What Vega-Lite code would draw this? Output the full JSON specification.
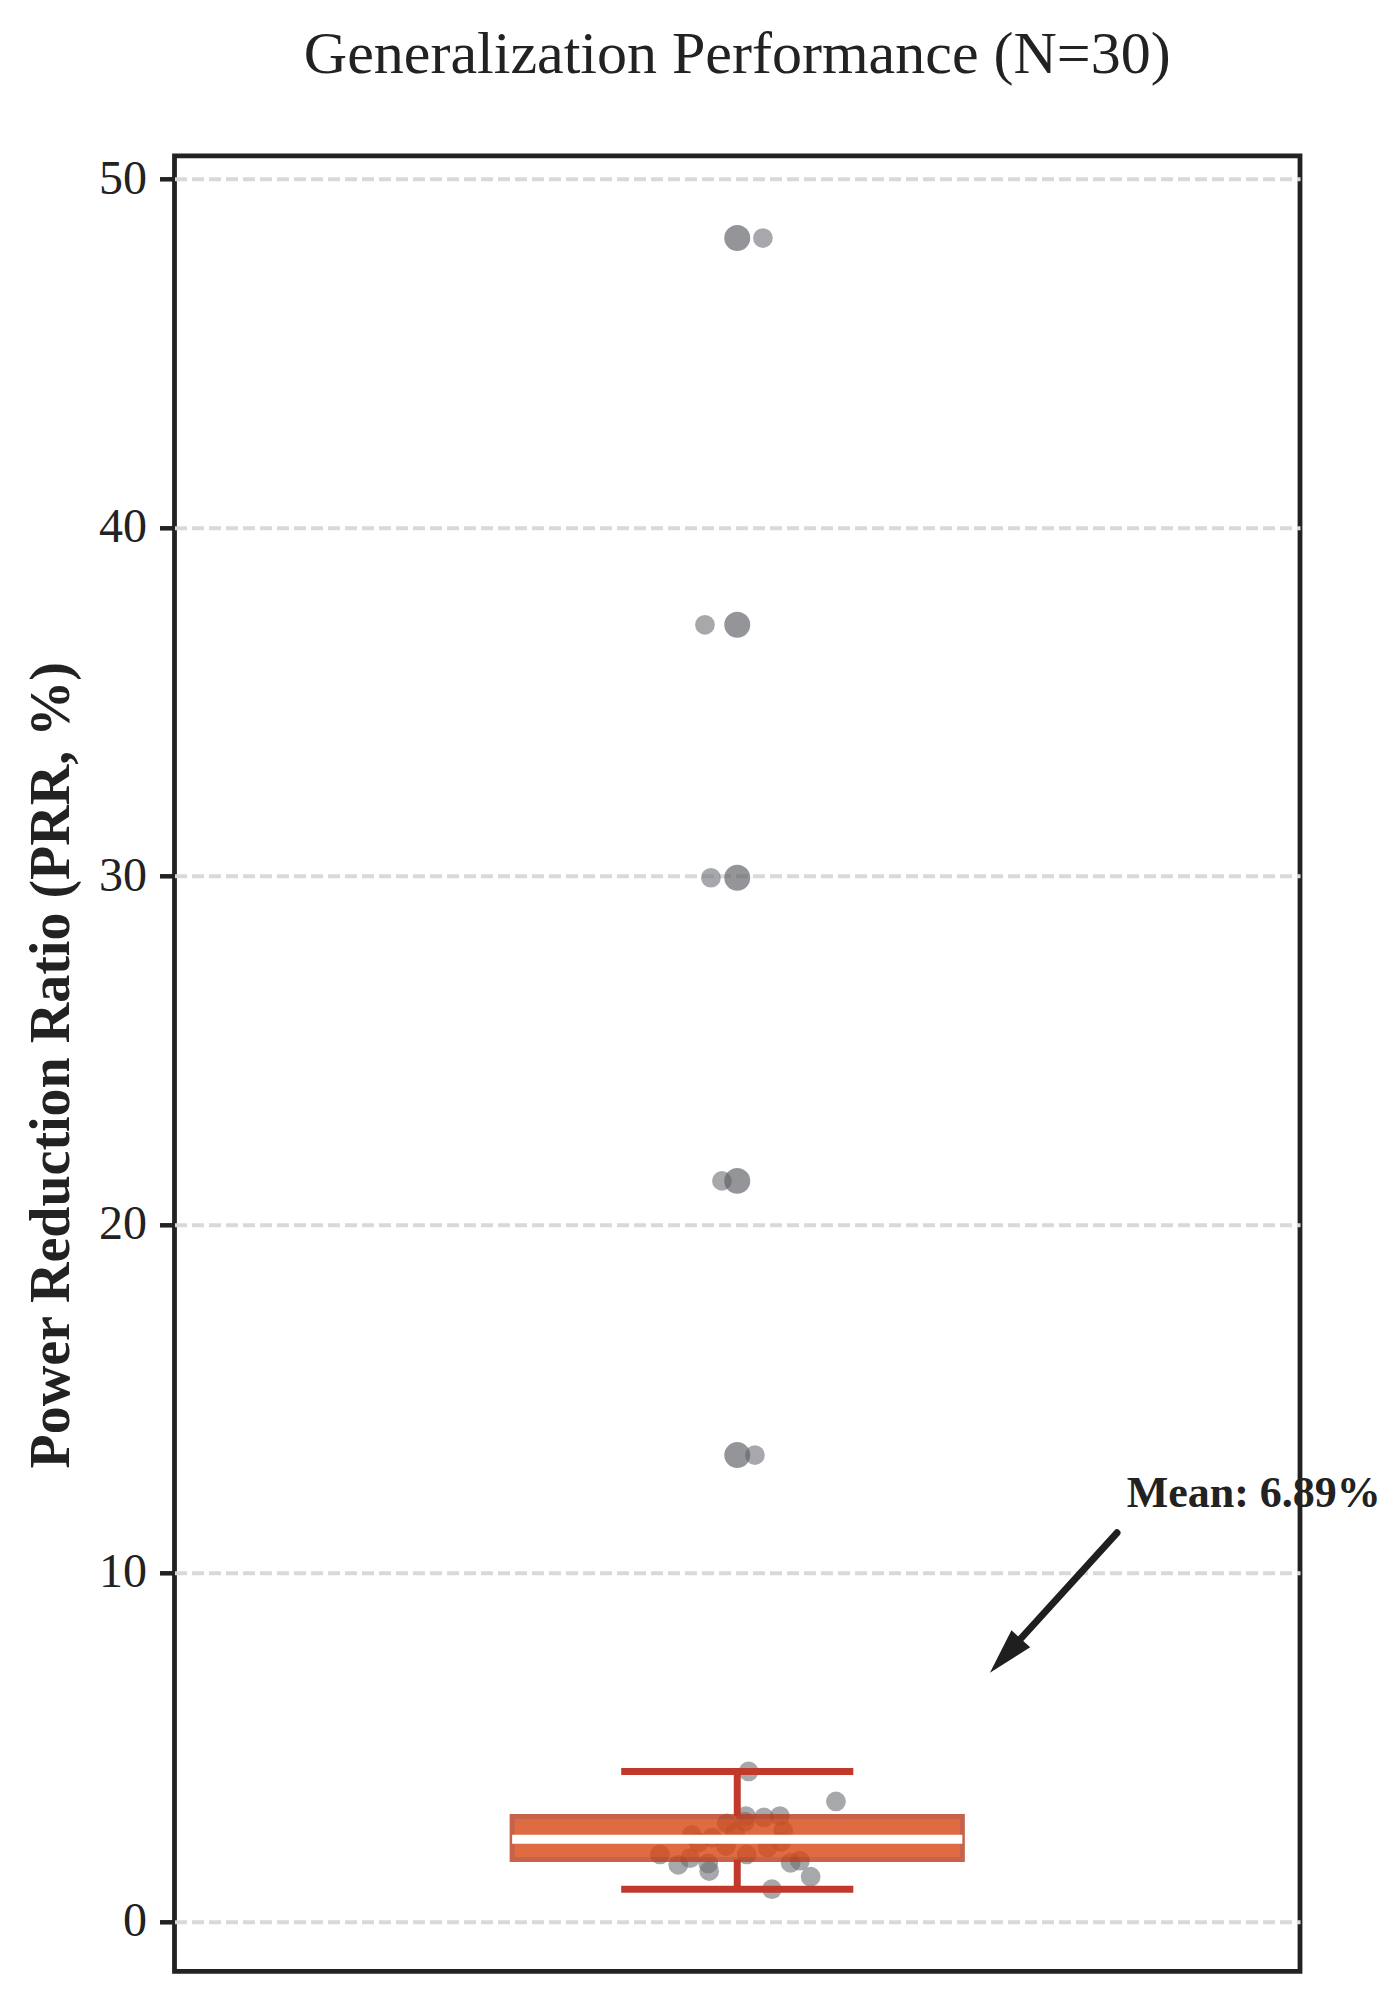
{
  "$schema": "https://vega.github.io/schema/vega-lite/v6.json",
  "width": 1125.5,
  "height": 1815.5,
  "autosize": {"type": "none"},
  "padding": {"left": 174.5, "top": 155.8, "right": 97, "bottom": 32.7},
  "background": "white",
  "title": {
    "text": "Generalization Performance (N=30)",
    "font": "Liberation Serif",
    "fontSize": 60,
    "fontWeight": "normal",
    "color": "#222222",
    "anchor": "middle",
    "baseline": "alphabetic",
    "offset": 22
  },
  "datasets": {
    "points": [
      {"prr": 48.31, "jitter": 0.0228},
      {"prr": 37.21, "jitter": -0.0287},
      {"prr": 29.95, "jitter": -0.0234},
      {"prr": 21.25, "jitter": -0.0136},
      {"prr": 13.38, "jitter": 0.0157},
      {"prr": 4.30, "jitter": 0.0101},
      {"prr": 3.44, "jitter": 0.0877},
      {"prr": 3.02, "jitter": 0.0077},
      {"prr": 2.98, "jitter": 0.0237},
      {"prr": 3.02, "jitter": 0.0379},
      {"prr": 2.81, "jitter": -0.0094},
      {"prr": 2.86, "jitter": 0.0068},
      {"prr": 2.60, "jitter": 0.0409},
      {"prr": 2.48, "jitter": -0.0405},
      {"prr": 2.26, "jitter": -0.0343},
      {"prr": 2.16, "jitter": -0.0100},
      {"prr": 2.28, "jitter": 0.0391},
      {"prr": 1.92, "jitter": -0.0687},
      {"prr": 1.92, "jitter": 0.0084},
      {"prr": 1.81, "jitter": -0.0420},
      {"prr": 1.62, "jitter": -0.0524},
      {"prr": 1.66, "jitter": -0.0258},
      {"prr": 1.44, "jitter": -0.0249},
      {"prr": 1.68, "jitter": 0.0474},
      {"prr": 1.74, "jitter": 0.0557},
      {"prr": 1.28, "jitter": 0.0652},
      {"prr": 0.92, "jitter": 0.0308},
      {"prr": 2.55, "jitter": -0.0020},
      {"prr": 2.40, "jitter": -0.0225},
      {"prr": 2.12, "jitter": 0.0270}
    ],
    "summary": [
      {"lower": 0.918, "q1": 1.774, "median": 2.357, "q3": 3.008, "upper": 4.30}
    ],
    "annotation": [
      {"label": "Mean: 6.89%", "mean": 6.89, "textX": 0.346, "textY": 11.89, "tailX": 0.3374, "tailY": 11.15, "baseX": 0.2420, "baseY": 7.76, "tipX": 0.2245, "tipY": 7.13}
    ]
  },
  "layer": [
    {
      "data": {"name": "points"},
      "mark": {"type": "point", "shape": "circle", "filled": true, "color": "#6c6e73", "opacity": 0.6, "size": 390, "strokeWidth": 0},
      "encoding": {
        "x": {"field": "jitter", "type": "quantitative", "scale": {"domain": [-0.5, 0.5], "nice": false, "zero": false}, "axis": null},
        "y": {
          "field": "prr",
          "type": "quantitative",
          "title": "Power Reduction Ratio (PRR, %)",
          "scale": {"domain": [-1.435, 50.67], "nice": false, "zero": false},
          "axis": {"values": [0, 10, 20, 30, 40, 50]}
        }
      }
    },
    {
      "data": {"name": "points"},
      "transform": [{"filter": "datum.prr > 4.31"}],
      "mark": {"type": "point", "shape": "circle", "filled": true, "color": "#5a5c61", "opacity": 0.65, "size": 674, "strokeWidth": 0},
      "encoding": {
        "x": {"datum": 0},
        "y": {"field": "prr", "type": "quantitative"}
      }
    },
    {
      "data": {"name": "summary"},
      "mark": {"type": "rect", "fill": "#d84715", "stroke": "#ba3d1d", "strokeWidth": 5, "opacity": 0.8},
      "encoding": {
        "x": {"datum": -0.2},
        "x2": {"datum": 0.2},
        "y": {"field": "q1", "type": "quantitative"},
        "y2": {"field": "q3"}
      }
    },
    {
      "data": {"name": "summary"},
      "mark": {"type": "rule", "color": "#c0392b", "strokeWidth": 7},
      "encoding": {
        "x": {"datum": 0},
        "y": {"field": "q3", "type": "quantitative"},
        "y2": {"field": "upper"}
      }
    },
    {
      "data": {"name": "summary"},
      "mark": {"type": "rule", "color": "#c0392b", "strokeWidth": 7},
      "encoding": {
        "x": {"datum": 0},
        "y": {"field": "lower", "type": "quantitative"},
        "y2": {"field": "q1"}
      }
    },
    {
      "data": {"name": "summary"},
      "transform": [{"fold": ["lower", "upper"], "as": ["whisker", "end"]}],
      "mark": {"type": "rule", "color": "#c0392b", "strokeWidth": 7, "strokeCap": "square"},
      "encoding": {
        "x": {"datum": -0.1},
        "x2": {"datum": 0.1},
        "y": {"field": "end", "type": "quantitative"}
      }
    },
    {
      "data": {"name": "summary"},
      "mark": {"type": "rule", "color": "#ffffff", "strokeWidth": 9},
      "encoding": {
        "x": {"datum": -0.2},
        "x2": {"datum": 0.2},
        "y": {"field": "median", "type": "quantitative"}
      }
    },
    {
      "data": {"name": "annotation"},
      "mark": {"type": "rule", "color": "#1f1f1f", "strokeWidth": 7, "strokeCap": "round"},
      "encoding": {
        "x": {"field": "tailX", "type": "quantitative"},
        "x2": {"field": "baseX"},
        "y": {"field": "tailY", "type": "quantitative"},
        "y2": {"field": "baseY"}
      }
    },
    {
      "data": {"name": "annotation"},
      "mark": {"type": "point", "shape": "M0,0L0.55,2L-0.55,2Z", "filled": true, "color": "#1f1f1f", "opacity": 1, "size": 2116, "angle": 222.2, "strokeWidth": 0},
      "encoding": {
        "x": {"field": "tipX", "type": "quantitative"},
        "y": {"field": "tipY", "type": "quantitative"}
      }
    },
    {
      "data": {"name": "annotation"},
      "mark": {"type": "text", "font": "Liberation Serif", "fontSize": 44, "fontWeight": "bold", "color": "#222222", "align": "left", "baseline": "alphabetic"},
      "encoding": {
        "x": {"field": "textX", "type": "quantitative"},
        "y": {"field": "textY", "type": "quantitative"},
        "text": {"field": "label"}
      }
    }
  ],
  "config": {
    "font": "Liberation Serif",
    "view": {"stroke": "#222222", "strokeWidth": 4.8},
    "axisY": {
      "grid": true,
      "gridColor": "#d9d9dc",
      "gridDash": [12, 5],
      "gridWidth": 4,
      "domain": false,
      "ticks": true,
      "tickSize": 15,
      "tickWidth": 4.5,
      "tickColor": "#222222",
      "labelFont": "Liberation Serif",
      "labelFontSize": 48,
      "labelColor": "#222222",
      "labelPadding": 13,
      "titleFont": "Liberation Serif",
      "titleFontSize": 56,
      "titleFontWeight": "bold",
      "titleColor": "#222222",
      "titleAngle": 270,
      "titleX": -106.5,
      "titleY": 909,
      "titleAlign": "center",
      "titleBaseline": "alphabetic"
    }
  }
}
